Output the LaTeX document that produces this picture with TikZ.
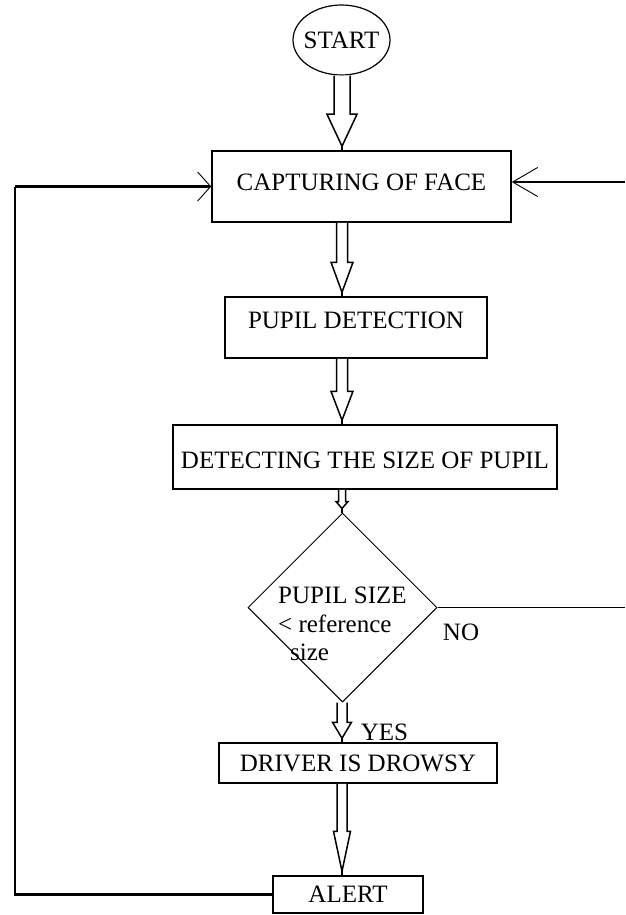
\documentclass[tikz,border=0pt]{standalone}
\usepackage{fontspec}
\setmainfont{Liberation Serif}
\usetikzlibrary{shapes.geometric,arrows.meta,calc}
\tikzset{
  txt/.style={font=\fontsize{25}{28.5}\selectfont, inner sep=0pt},
  procbox/.style={txt, draw, line width=1.5pt, rectangle},
  startshape/.style={txt, draw, line width=1.2pt, ellipse},
  decision/.style={draw, line width=1pt, diamond, aspect=1, inner sep=0pt},
  blockarrow/.style={draw, fill=white, line width=1.5pt, line join=miter},
  loopline/.style={draw, line width=2.5pt},
  thinline/.style={draw, line width=1.3pt},
  barbtip/.style={-{Straight Barb[length=#1pt,width=29pt,line width=0.9pt]}},
}
\newcommand{\blockarr}[5]{%
  \draw[blockarrow] ($(col |- #1.south)+(-#3,0)$)
    -- ($(col |- #2.north)+(-#3,-#5-4)$)
    -- ($(col |- #2.north)+(-#4,-#5-4)$)
    -- ($(col |- #2.north)+(0,-4)$)
    -- ($(col |- #2.north)+(#4,-#5-4)$)
    -- ($(col |- #2.north)+(#3,-#5-4)$)
    -- ($(col |- #1.south)+(#3,0)$);
  \draw[line width=2.2pt] ($(col |- #2.north)+(0,-5)$) -- (col |- #2.north);
}
\begin{document}
\begin{tikzpicture}[x=1pt,y=-1pt]
\useasboundingbox[fill=white] (0,0) rectangle (625,915);
\coordinate (col) at (342,0);
\coordinate (lx) at (15,0);
\coordinate (rx) at (625,0);
\coordinate (rin) at (625,182);

\node[startshape, minimum width=97pt, minimum height=70pt] (start) at (341.5,40) {\makebox[0pt]{START}};
\node[procbox, minimum width=299pt, minimum height=71pt, text height=12pt, text depth=4.5pt] (cap) at (361.5,186.5) {CAPTURING OF FACE};
\node[procbox, minimum width=262pt, minimum height=61pt, text height=10pt, text depth=8.5pt] (pupil) at (356,327.5) {PUPIL DETECTION};
\node[procbox, minimum width=384pt, minimum height=64pt, text height=22.5pt, text depth=0pt] (detect) at (365,457) {DETECTING THE SIZE OF PUPIL};
\node[decision, minimum width=189pt, minimum height=189pt] (dia) at (342.5,607.5) {};
\node[txt, align=left, anchor=north west] (diatext) at (278,587) {PUPIL SIZE\\\textless{} reference\\\hspace*{12pt}size};
\node[procbox, minimum width=278pt, minimum height=40pt] (driver) at (358,763) {DRIVER IS DROWSY};
\node[procbox, minimum width=150pt, minimum height=37pt] (alert) at (348,894.5) {ALERT};
\node[txt] (no) at (461,632) {NO};
\node[txt] (yes) at (384.5,732) {YES};

\blockarr{start}{cap}{8}{15}{32}
\blockarr{cap}{pupil}{5.5}{11}{30}
\blockarr{pupil}{detect}{5.5}{11}{29}
\blockarr{detect}{dia}{3.5}{6}{7}
\blockarr{dia}{driver}{5}{9.5}{16}
\blockarr{driver}{alert}{5}{8.5}{40}

\draw[loopline] (alert.west) -- (alert.west -| lx) -- (lx |- cap.west);
\draw[loopline, barbtip=13] (lx |- cap.west) -- (cap.west);
\draw[thinline, barbtip=25] (rin) -- (rin -| cap.east);
\draw[thinline] (dia.east) -- (dia.east -| rx);
\end{tikzpicture}
\end{document}
